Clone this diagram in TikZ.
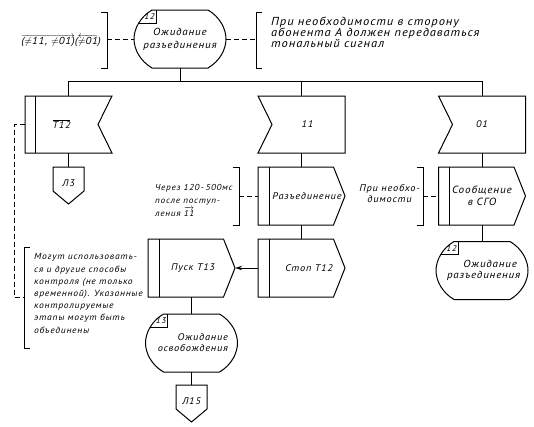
\documentclass[tikz,border=0pt]{standalone}
\usepackage{fontspec}
\setmainfont{PT Sans}[LetterSpace=8, FakeStretch=1.08]
\usetikzlibrary{arrows.meta}
\tikzset{
  shp/.style={line width=1pt, line join=miter},
  ln/.style={line width=1pt},
  dsh/.style={line width=1pt, dash pattern=on 5pt off 3pt},
  txt/.style={font=\fontsize{9.6}{11}\selectfont\itshape, inner sep=0pt},
  box/.style={txt, draw=none},
  lbl/.style={font=\fontsize{8.5}{9}\selectfont\itshape, inner sep=0pt},
  brk/.style={line width=1pt},
}
% state: name, cx, cy, label, node options, text
\newcommand\stateN[6]{%
  \node[box, minimum width=92pt, minimum height=58pt, #5] (#1) at (#2,#3) {#6};
  \def\stpath{(#2-28,#3-29) -- (#2+28,#3-29) .. controls (#2+40,#3-22) and (#2+46,#3-10) .. (#2+46,#3) .. controls (#2+46,#3+10) and (#2+40,#3+22) .. (#2+28,#3+29) -- (#2-28,#3+29) .. controls (#2-40,#3+22) and (#2-46,#3+10) .. (#2-46,#3) .. controls (#2-46,#3-10) and (#2-40,#3-22) .. cycle}%
  \draw[shp] \stpath;
  \begin{scope}\clip \stpath; \draw[shp] (#2-50,#3-31) rectangle (#2-24,#3-16);\end{scope}
  \node[lbl] at (#2-30.5,#3-22.5) {#4};
}
% input, notch right, with bar
\newcommand\inR[4]{%
  \node[box, minimum width=87pt, minimum height=57pt] (#1) at (#2,#3) {#4};
  \draw[shp] (#2-43.5,#3-28.5) -- (#2+43.5,#3-28.5) -- (#2+29.5,#3) -- (#2+43.5,#3+28.5) -- (#2-43.5,#3+28.5) -- cycle;
  \draw[shp] (#2-33.5,#3-28.5) -- (#2-33.5,#3+28.5);
}
% input, notch left
\newcommand\inL[4]{%
  \node[box, minimum width=87pt, minimum height=57pt] (#1) at (#2,#3) {#4};
  \draw[shp] (#2-43.5,#3-28.5) -- (#2+43.5,#3-28.5) -- (#2+43.5,#3+28.5) -- (#2-43.5,#3+28.5) -- (#2-29.5,#3) -- cycle;
}
% output with bar
\newcommand\outN[4]{%
  \node[box, minimum width=87pt, minimum height=58pt] (#1) at (#2,#3) {#4};
  \draw[shp] (#2-43.5,#3-29) -- (#2+32,#3-29) -- (#2+43.5,#3) -- (#2+32,#3+29) -- (#2-43.5,#3+29) -- cycle;
  \draw[shp] (#2-32.5,#3-29) -- (#2-32.5,#3+29);
}
% off-page connector: name, cx, top, text
\newcommand\connN[4]{%
  \node[box, minimum width=31pt, minimum height=37pt] (#1) at (#2,#3+18.5) {\raisebox{5pt}{#4}};
  \draw[shp] (#2-15.5,#3) -- (#2+15.5,#3) -- (#2+15.5,#3+24) -- (#2,#3+37) -- (#2-15.5,#3+24) -- cycle;
}
\begin{document}
\begin{tikzpicture}[x=1pt,y=-1pt]
\useasboundingbox (0,0) rectangle (534,426);

% top state
\stateN{s12}{180}{39}{12}{align=center, font=\fontsize{10.2}{13}\selectfont\itshape}{Ожидание\\разъединения}

% comments at top
\node[txt, anchor=east, font=\fontsize{10.2}{11}\selectfont\itshape] (ntl) at (101,41) {\ensuremath{\overrightarrow{\hbox{(\ensuremath{\neq}11, \ensuremath{\neq}01)}}}(\ensuremath{\overleftarrow{\hbox{\ensuremath{\neq}01}}})};
\draw[brk] (101,12) -- (107,12) -- (107,68) -- (101,68);
\coordinate (btl) at (107,39);
\draw[dsh] (btl) -- (s12.west);

\node[txt, anchor=west, align=left, font=\fontsize{11.6}{11}\selectfont\itshape] (ntr) at (271,32) {При необходимости в сторону\\абонента А должен передаваться\\тональный сигнал};
\draw[brk] (262,12) -- (256,12) -- (256,68) -- (262,68);
\coordinate (btr) at (256,39);
\draw[dsh] (s12.east) -- (btr);

% inputs
\inR{t12}{68.5}{124.5}{\ensuremath{\overline{\hbox{T12}}}\hspace*{14pt}}
\inL{i11}{301.5}{124.5}{\hspace*{12pt}11}
\inL{i01}{482}{124.5}{01}

\coordinate (bus) at (0,81);
\draw[ln] (t12.north) -- (t12.north |- bus) -- (i01.north |- bus) -- (i01.north);
\draw[ln] (i11.north) -- (i11.north |- bus);
\draw[ln] (s12.south) -- (s12.south |- bus);

% left branch
\connN{l3}{68.5}{167}{Л3}
\draw[ln] (t12.south) -- (l3.north);

% middle branch
\outN{razed}{301.5}{196}{\hspace*{11pt}Разъединение}
\outN{stop}{301.5}{268}{\hspace*{15pt}Стоп T12}
\draw[ln] (i11.south) -- (razed.north);
\draw[ln] (razed.south) -- (stop.north);

\node[txt, anchor=west, align=left, font=\fontsize{8.6}{13}\selectfont\itshape] (nmid) at (155,200) {Через 120\,-\,500мс\\после поступ-\\ления \ensuremath{\overrightarrow{\hbox{11}}}};
\draw[brk] (233,167) -- (239,167) -- (239,225) -- (233,225);
\coordinate (bmid) at (239,196);
\draw[dsh] (bmid) -- (razed.west);

% right branch
\outN{soob}{482}{196}{\fontsize{10.4}{12}\selectfont\shortstack{Сообщение\\в СГО}}
\draw[ln] (i01.south) -- (soob.north);
\node[txt, anchor=east, align=center] (nrt) at (420,194) {При необхо-\\димости};
\draw[brk] (417,167) -- (423,167) -- (423,225) -- (417,225);
\coordinate (brt) at (423,196);
\draw[dsh] (brt) -- (soob.west);

\stateN{s12b}{482}{270.5}{12}{align=right, text width=70pt, font=\fontsize{10.2}{10.5}\selectfont\itshape}{Ожидание\\разъединения}
\draw[ln] (soob.south) -- (s12b.north);

% lower left
\outN{pusk}{191.5}{268}{\hspace*{3pt}Пуск T13}
\draw[ln, -{Stealth[length=7pt,width=4.5pt]}] (stop.west) -- (pusk.east);

\stateN{s13}{191.5}{343}{13}{align=right, text width=73pt}{Ожидание\\освобождения}
\draw[ln] (pusk.south) -- (s13.north);

\connN{l15}{191.5}{385}{Л15}
\draw[ln] (s13.south) -- (l15.north);

% big note
\node[txt, anchor=west, align=left, font=\fontsize{8.9}{12.2}\selectfont\itshape] (nbig) at (34,293.5) {Могут использовать-\\ся и другие способы\\контроля (не только\\временной). Указанные\\контролируемые\\этапы могут быть\\объединены};
\draw[brk] (30,247) -- (24,247) -- (24,348) -- (30,348);
\coordinate (bbig) at (24,297);
\coordinate (dl1) at (14,124.5);
\coordinate (dl2) at (14,297);
\draw[dsh] (t12.west) -- (dl1) -- (dl2) -- (bbig);

\end{tikzpicture}
\end{document}
